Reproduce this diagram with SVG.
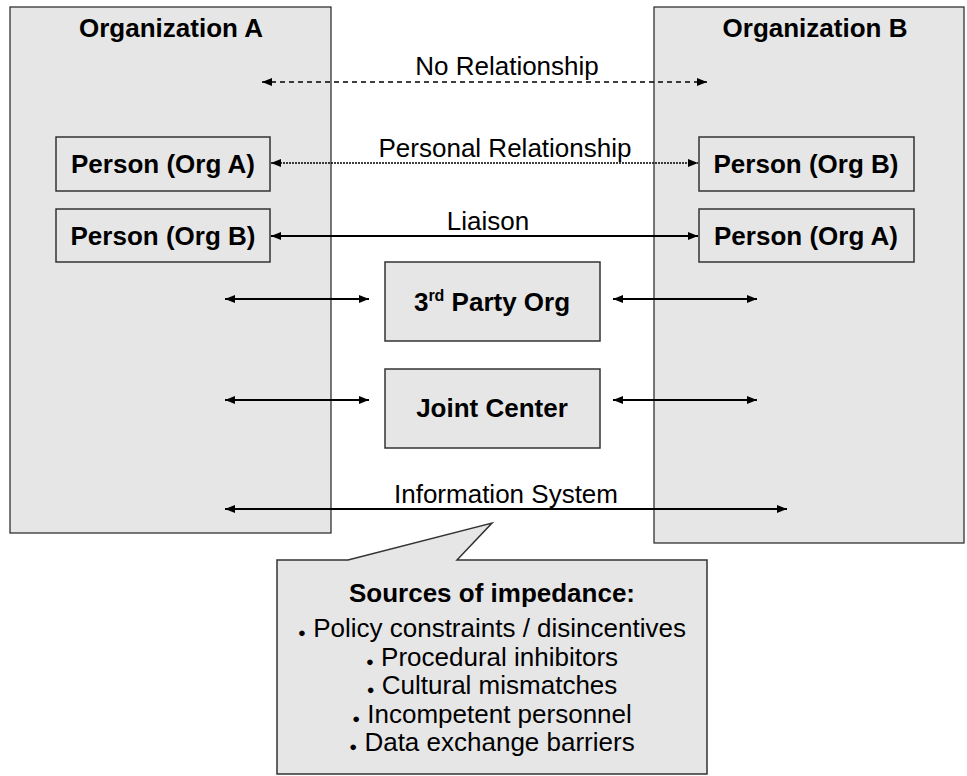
<svg xmlns="http://www.w3.org/2000/svg" width="967" height="776" viewBox="0 0 967 776">
  <defs>
    <style>
      .org { fill: #e6e6e6; stroke: #222; stroke-width: 1.2; }
      .box { fill: #e6e6e6; stroke: #333; stroke-width: 1.5; }
      .title { font-family: "Liberation Sans", Arial, sans-serif; font-weight: bold; font-size: 26px; fill: #000; text-anchor: middle; }
      .label { font-family: "Liberation Sans", Arial, sans-serif; font-size: 26px; fill: #000; text-anchor: middle; }
      .link { stroke: #000; stroke-width: 2; fill: none; marker-start: url(#head); marker-end: url(#head); }
      .dashed { stroke-width: 1.5; stroke-dasharray: 5 4; }
      .dotted { stroke-width: 1.6; stroke-dasharray: 2 1; }
      .bullet { font-size: 13px; }
    </style>
    <marker id="head" viewBox="0 0 10 8" refX="10" refY="4" markerWidth="10" markerHeight="8" markerUnits="userSpaceOnUse" orient="auto-start-reverse">
      <path d="M0,0 L10,4 L0,8 z" fill="#000"/>
    </marker>
  </defs>

  <rect width="967" height="776" fill="#fff"/>

  <!-- organisation containers -->
  <g id="org-a">
    <rect class="org" x="10" y="7" width="321" height="526"/>
    <text class="title" x="171" y="37">Organization A</text>
  </g>
  <g id="org-b">
    <rect class="org" x="654" y="7" width="310" height="536"/>
    <text class="title" x="815" y="37">Organization B</text>
  </g>

  <!-- people embedded in each organisation -->
  <g id="person-a-in-a">
    <rect class="box" x="56" y="137" width="214" height="54"/>
    <text class="title" x="163" y="173">Person (Org A)</text>
  </g>
  <g id="person-b-in-a">
    <rect class="box" x="56" y="209" width="214" height="53"/>
    <text class="title" x="163" y="245">Person (Org B)</text>
  </g>
  <g id="person-b-in-b">
    <rect class="box" x="699" y="137" width="215" height="54"/>
    <text class="title" x="806" y="173">Person (Org B)</text>
  </g>
  <g id="person-a-in-b">
    <rect class="box" x="699" y="209" width="215" height="53"/>
    <text class="title" x="806" y="245">Person (Org A)</text>
  </g>

  <!-- intermediaries -->
  <g id="third-party">
    <rect class="box" x="385" y="262" width="215" height="79"/>
    <text class="title" x="492" y="311">3<tspan font-size="16" dy="-10">rd</tspan><tspan dy="10"> Party Org</tspan></text>
  </g>
  <g id="joint-center">
    <rect class="box" x="385" y="369" width="215" height="79"/>
    <text class="title" x="492" y="417">Joint Center</text>
  </g>

  <!-- relationship connectors -->
  <g id="connectors">
    <line class="link dashed" x1="262" y1="82" x2="707" y2="82"/>
    <line class="link dotted" x1="271" y1="163" x2="698" y2="163"/>
    <line class="link" x1="271" y1="236" x2="698" y2="236"/>
    <line class="link" x1="225" y1="299" x2="369" y2="299"/>
    <line class="link" x1="613" y1="299" x2="757" y2="299"/>
    <line class="link" x1="225" y1="400" x2="369" y2="400"/>
    <line class="link" x1="613" y1="400" x2="757" y2="400"/>
    <line class="link" x1="225" y1="509" x2="787" y2="509"/>
    <text class="label" x="507" y="75">No Relationship</text>
    <text class="label" x="505" y="157">Personal Relationship</text>
    <text class="label" x="488" y="230">Liaison</text>
    <text class="label" x="506" y="503">Information System</text>
  </g>

  <!-- impedance callout -->
  <g id="impedance-callout">
    <path class="box" d="M277,560 L348,560 L492,523 L457,560 L707,560 L707,774 L277,774 Z"/>
    <text class="title" x="492" y="602">Sources of impedance:</text>
    <text class="label" x="492" y="637"><tspan class="bullet">●</tspan> Policy constraints / disincentives</text>
    <text class="label" x="492" y="666"><tspan class="bullet">●</tspan> Procedural inhibitors</text>
    <text class="label" x="492" y="694"><tspan class="bullet">●</tspan> Cultural mismatches</text>
    <text class="label" x="492" y="723"><tspan class="bullet">●</tspan> Incompetent personnel</text>
    <text class="label" x="492" y="751"><tspan class="bullet">●</tspan> Data exchange barriers</text>
  </g>
</svg>
